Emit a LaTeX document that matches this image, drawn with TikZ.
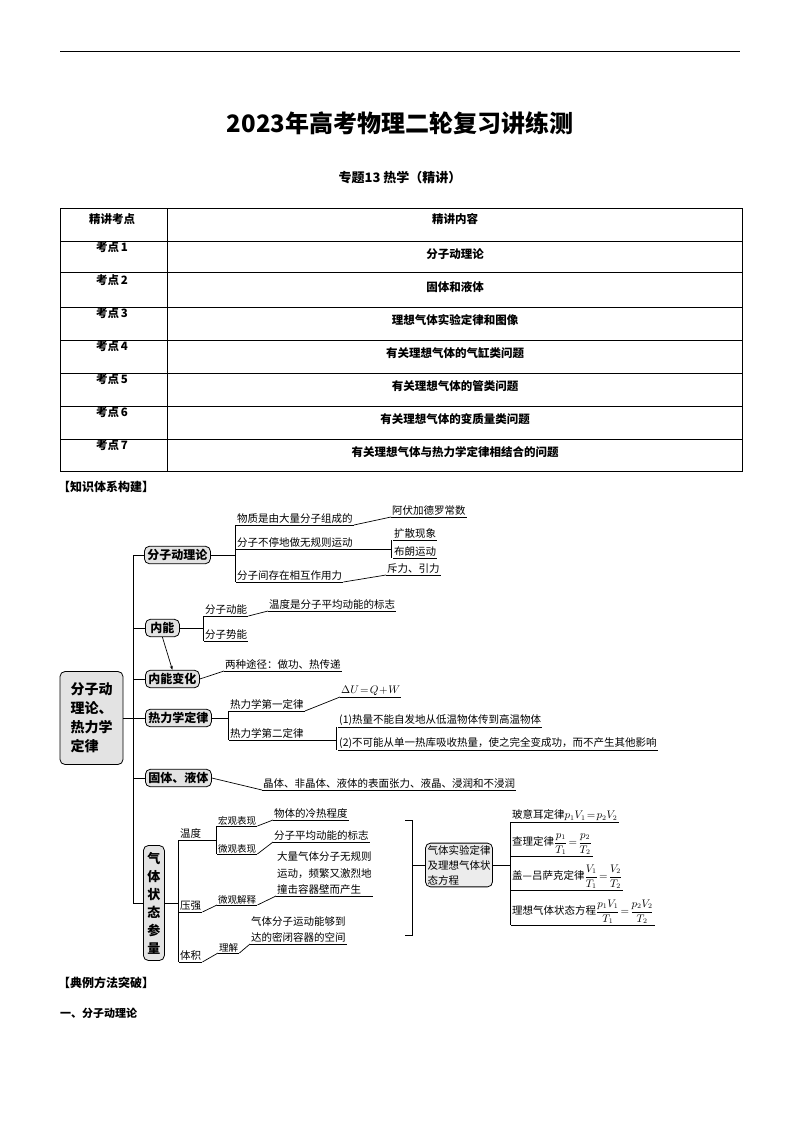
\documentclass[tikz,border=0pt]{standalone}
\usepackage{amsmath}
\usepackage{fontspec}
\setmainfont{Noto Sans CJK SC}
\usetikzlibrary{arrows.meta}
\begin{document}
\begin{tikzpicture}[x=1pt,y=-1pt,
  cell/.style={font=\bfseries\fontsize{11.5}{13}\selectfont,inner sep=0pt},
  br/.style={draw,rounded corners=5pt,fill=gray!22,line width=0.8pt,font=\bfseries\fontsize{12}{14}\selectfont,inner sep=3pt},
  t/.style={font=\fontsize{10.5}{12}\selectfont,inner sep=1pt,anchor=south west},
  u/.style={t,append after command={(\tikzlastnode.south west) edge[line width=0.6pt] (\tikzlastnode.south east)}},
  ln/.style={line width=0.7pt}]
\useasboundingbox (0,0) rectangle (800,1132);
\draw[line width=1pt] (60,52) -- (740,52);
\node[font=\bfseries\fontsize{24}{28}\selectfont] (title) at (400,123) {2023年高考物理二轮复习讲练测};
\node[font=\bfseries\fontsize{13}{15}\selectfont] (sub) at (400,178) {专题13\ 热学（精讲）};
% table
\draw[line width=0.7pt] (60,208) rectangle (742,471);
\draw[line width=0.7pt] (167,208) -- (167,471);
\foreach \yy in {241,272,307,340,373,406,439} \draw[line width=0.7pt] (60,\yy) -- (742,\yy);
\node[cell] (h1) at (112,219) {精讲考点};
\node[cell] (h2) at (455,219) {精讲内容};
\foreach \i/\yy/\c in {1/251/分子动理论,2/284/固体和液体,3/317/理想气体实验定律和图像,4/350/有关理想气体的气缸类问题,5/383/有关理想气体的管类问题,6/416/有关理想气体的变质量类问题,7/449/有关理想气体与热力学定律相结合的问题}{
  \node[cell] (k\i) at (112,\yy-4) {考点\,\i};
  \node[cell] (c\i) at (455,\yy+3) {\c};
}
\node[font=\bfseries\fontsize{12}{14}\selectfont,anchor=west,inner sep=0pt] (sec1) at (58,487) {【知识体系构建】};
% mind map
\node[br,minimum width=63pt,minimum height=93pt,align=left,font=\bfseries\fontsize{14}{19}\selectfont,inner sep=2pt] (root) at (91.5,718) {分子动\\理论、\\热力学\\定律};
\draw[ln] (root.east) -- (133,718);
\draw[ln] (133,555) -- (133,903);
\node[br,anchor=west] (b1) at (144,555) {分子动理论};
\node[br,anchor=west] (b2) at (145,628) {\,内能\,};
\node[br,anchor=west] (b3) at (145,679) {内能变化};
\node[br,anchor=west] (b4) at (145,718) {热力学定律};
\node[br,anchor=west] (b5) at (145,778) {固体、液体};
\node[br,anchor=west,align=center,font=\bfseries\fontsize{13}{18}\selectfont,minimum height=115pt,inner sep=4pt] (b6) at (143,903) {气\\体\\状\\态\\参\\量};
\foreach \b in {b1,b2,b3,b4,b5,b6} \draw[ln] (133,0 |- \b.west) -- (\b.west);
\draw[ln,-{Stealth[length=4pt]}] (b2.south) -- (b3.north);
% b1
\draw[ln] (b1.east) -- (235,555);
\draw[ln] (235,525) -- (235,582);
\node[u] (a1) at (236,525) {物质是由大量分子组成的};
\node[u] (a2) at (236,549) {分子不停地做无规则运动};
\node[u] (a3) at (236,582) {分子间存在相互作用力};
\node[u] (a4) at (391,517) {阿伏加德罗常数};
\draw[ln] (a1.south east) -- (391,517);
\node[u] (a5) at (393,540) {扩散现象};
\node[u] (a6) at (393,558) {布朗运动};
\draw[ln] (a2.south east) -- (391,549);
\draw[ln] (391,540) -- (391,558);
\node[u] (a7) at (386,575) {斥力、引力};
\draw[ln] (a3.south east) -- (386,575);
% b2
\draw[ln] (b2.east) -- (203,628);
\draw[ln] (203,616) -- (203,641);
\node[u] (n1) at (204,616) {分子动能};
\node[u] (n2) at (204,641) {分子势能};
\node[u] (n3) at (268,611) {温度是分子平均动能的标志};
\draw[ln] (n1.south east) -- (268,611);
% b3
\node[u] (m1) at (224,671) {两种途径：做功、热传递};
\draw[ln] (b3.east) -- (224,671);
% b4
\draw[ln] (b4.east) -- (228,718);
\draw[ln] (228,711) -- (228,740);
\node[u] (r1) at (229,711) {热力学第一定律};
\node[u] (r2) at (229,740) {热力学第二定律};
\node[u,font=\fontsize{11}{12}\selectfont] (r3) at (340,697) {$\Delta U\!=\!Q\!+\!W$};
\draw[ln] (r1.south east) -- (340,697);
\node[u] (r4) at (338,727) {(1)热量不能自发地从低温物体传到高温物体};
\node[u] (r5) at (338,750) {(2)不可能从单一热库吸收热量，使之完全变成功，而不产生其他影响};
\draw[ln] (r2.south east) -- (336,740);
\draw[ln] (336,727) -- (336,750);
% b5
\node[u] (s1) at (262,790) {晶体、非晶体、液体的表面张力、液晶、浸润和不浸润};
\draw[ln] (b5.east) -- (262,790);
% b6
\draw[ln] (b6.east) -- (178,903);
\draw[ln] (178,840) -- (178,962);
\node[u] (g1) at (179,840) {温度};
\node[u] (g2) at (179,912) {压强};
\node[u] (g3) at (179,962) {体积};
\draw[ln] (g1.south east) -- (216,840);
\draw[ln] (216,826) -- (216,854);
\node[u,font=\fontsize{9.5}{11}\selectfont] (g4) at (217,826) {宏观表现};
\node[u,font=\fontsize{9.5}{11}\selectfont] (g5) at (217,854) {微观表现};
\node[u] (g6) at (273,820) {物体的冷热程度};
\node[u] (g7) at (273,842) {分子平均动能的标志};
\draw[ln] (g4.south east) -- (273,820);
\draw[ln] (g5.south east) -- (273,842);
\node[u,font=\fontsize{9.5}{11}\selectfont] (g8) at (217,905) {微观解释};
\draw[ln] (g2.south east) -- (217,905);
\node[u,align=left,font=\fontsize{10.5}{16.5}\selectfont] (g9) at (276,896) {大量气体分子无规则\\运动，频繁又激烈地\\撞击容器壁而产生};
\draw[ln] (g8.south east) -- (276,896);
\node[u,font=\fontsize{9.5}{11}\selectfont] (g10) at (218,953) {理解};
\draw[ln] (g3.south east) -- (218,953);
\node[u,align=left,font=\fontsize{10.5}{16.5}\selectfont] (g11) at (250,944) {气体分子运动能够到\\达的密闭容器的空间};
\draw[ln] (g10.south east) -- (250,944);
% big bracket
\draw[ln] (405,820) -- (412,820) -- (412,935) -- (405,935);
\node[br,font=\fontsize{10.5}{15}\selectfont,align=left,inner sep=2pt,fill=gray!15] (gl) at (459,865) {气体实验定律\\及理想气体状\\态方程};
\draw[ln] (412,865) -- (gl.west);
\draw[ln] (gl.east) -- (510,865);
\draw[ln] (510,822) -- (510,925);
\node[u] (l1) at (511,822) {玻意耳定律$p_1V_1\!=\!p_2V_2$};
\node[u] (l2) at (511,856) {查理定律$\dfrac{p_1}{T_1}\!=\!\dfrac{p_2}{T_2}$};
\node[u] (l3) at (511,890) {盖—吕萨克定律$\dfrac{V_1}{T_1}\!=\!\dfrac{V_2}{T_2}$};
\node[u] (l4) at (511,925) {理想气体状态方程$\dfrac{p_1V_1}{T_1}\!=\!\dfrac{p_2V_2}{T_2}$};
\node[font=\bfseries\fontsize{12}{14}\selectfont,anchor=west,inner sep=0pt] (sec2) at (58,983) {【典例方法突破】};
\node[font=\bfseries\fontsize{11}{13}\selectfont,anchor=west,inner sep=0pt] (sec3) at (60,1013) {一、分子动理论};
\end{tikzpicture}
\end{document}
